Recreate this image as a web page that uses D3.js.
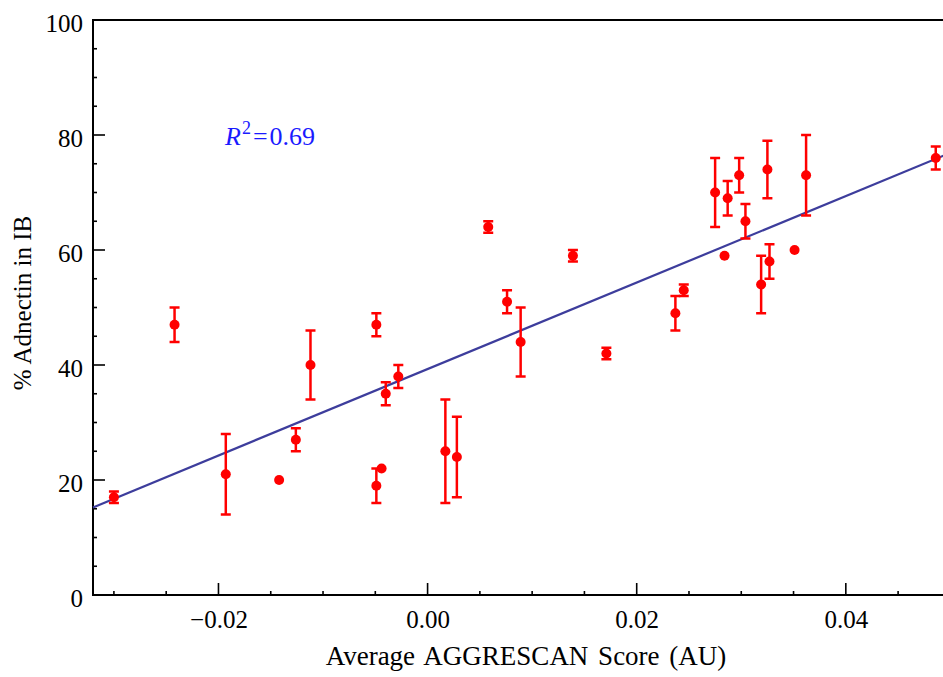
<!DOCTYPE html>
<html>
<head>
<meta charset="utf-8">
<script src="https://cdn.jsdelivr.net/npm/d3@7"></script>
<style>
  html, body { margin: 0; padding: 0; background: #fff; }
  svg { display: block; }
</style>
</head>
<body>
<svg id="chart" width="943" height="677"></svg>
<script>
// ---- data ----
const scoreX = [-0.0300, -0.0242, -0.0193, -0.0142, -0.0126, -0.0112, -0.0049, -0.0049, -0.0044, -0.0040,
                -0.0028, 0.0017, 0.0028, 0.0058, 0.0076, 0.0089, 0.0139, 0.0171, 0.0237, 0.0245,
                0.0275, 0.0284, 0.0287, 0.0298, 0.0304, 0.0319, 0.0325, 0.0327, 0.0351, 0.0362, 0.0486];
const adnectinY = [17, 47, 21, 20, 27, 40, 47, 19, 22, 35,
                   38, 25, 24, 64, 51, 44, 59, 42, 49, 53,
                   70, 59, 69, 73, 65, 54, 74, 58, 60, 73, 76];
const errorY = [1, 3, 7, 0, 2, 6, 2, 3, 0, 2,
                2, 9, 7, 1, 2, 6, 1, 1, 3, 1,
                6, 0, 3, 3, 3, 5, 5, 3, 0, 7, 2];
const fitIntercept = 39.3;
const fitSlope = 752;
const r2Text = "0.69";
const xTicks = [-0.02, 0.00, 0.02, 0.04];
const yTicks = [0, 20, 40, 60, 80, 100];
const xLabel = "Average AGGRESCAN Score (AU)";
const yLabel = "% Adnectin in IB";

// ---- layout ----
const svg = d3.select("#chart");
const L = 93, R = 944, T = 20, B = 595;
const x = d3.scaleLinear().domain([-0.0320, 0.04939]).range([L, R]);
const y = d3.scaleLinear().domain([0, 100]).range([B, T]);
const font = '"Liberation Serif", "Times New Roman", Times, serif';

const data = scoreX.map((v, i) => ({x: v, y: adnectinY[i], e: errorY[i]}));

// frame top line
svg.append("line").attr("x1", L).attr("x2", 943).attr("y1", T).attr("y2", T)
  .attr("stroke", "#000").attr("stroke-width", 2);

// x axis ticks (major every 0.02, minor every 0.005)
const xMinor = d3.range(-0.030, 0.0491, 0.005).map(v => +v.toFixed(3));
svg.append("g").selectAll("line").data(xMinor).join("line")
  .attr("x1", d => x(d)).attr("x2", d => x(d))
  .attr("y1", B).attr("y2", d => xTicks.some(t => Math.abs(t - d) < 1e-6) ? B - 12 : B - 4)
  .attr("stroke", "#000").attr("stroke-width", 1.6);

// y axis ticks (major every 20, minor every 5)
const yMinor = d3.range(0, 101, 5);
svg.append("g").selectAll("line").data(yMinor).join("line")
  .attr("x1", L).attr("x2", d => d % 20 === 0 ? L + 12 : L + 4)
  .attr("y1", d => y(d)).attr("y2", d => y(d))
  .attr("stroke", "#000").attr("stroke-width", 1.6);

// axes lines
svg.append("line").attr("x1", L).attr("x2", L).attr("y1", T - 1).attr("y2", B + 1)
  .attr("stroke", "#000").attr("stroke-width", 2);
svg.append("line").attr("x1", L - 1).attr("x2", 943).attr("y1", B).attr("y2", B)
  .attr("stroke", "#000").attr("stroke-width", 2);

// tick labels via d3 axis (no tick lines)
const fmtX = d => (d < 0 ? "\u2212" : "") + d3.format(".2f")(Math.abs(d));
const gx = svg.append("g").attr("transform", `translate(0,${B})`)
  .call(d3.axisBottom(x).tickValues(xTicks).tickFormat(fmtX).tickSize(0).tickPadding(15));
gx.select(".domain").remove();
gx.selectAll("text").style("font-family", font).style("font-size", "25px").attr("fill", "#000");

const gy = svg.append("g").attr("transform", `translate(${L},0)`)
  .call(d3.axisLeft(y).tickValues(yTicks).tickFormat(d3.format("d")).tickSize(0).tickPadding(10));
gy.select(".domain").remove();
gy.selectAll("text").style("font-family", font).style("font-size", "25px").attr("fill", "#000")
  .attr("dy", "0.44em");

// axis titles
svg.append("text").attr("x", 526).attr("y", 665).attr("text-anchor", "middle")
  .style("font-family", font).style("font-size", "27px").style("word-spacing", "3px")
  .attr("fill", "#000").text(xLabel);
svg.append("text").attr("transform", "translate(31,303) rotate(-90)").attr("text-anchor", "middle")
  .style("font-family", font).style("font-size", "25px").attr("fill", "#000").text(yLabel);

// regression line
const plot = svg.append("g");
const xd = x.domain();
plot.append("line")
  .attr("x1", x(xd[0])).attr("y1", y(fitIntercept + fitSlope * xd[0]))
  .attr("x2", x(xd[1])).attr("y2", y(fitIntercept + fitSlope * xd[1]))
  .attr("stroke", "#3d3d9c").attr("stroke-width", 2.2);

// error bars
const red = "#ff0000";
const eb = plot.append("g").selectAll("g").data(data.filter(d => d.e > 0)).join("g");
eb.append("line").attr("x1", d => x(d.x)).attr("x2", d => x(d.x))
  .attr("y1", d => y(d.y - d.e)).attr("y2", d => y(d.y + d.e))
  .attr("stroke", red).attr("stroke-width", 2.5);
eb.append("line").attr("x1", d => x(d.x) - 5).attr("x2", d => x(d.x) + 5)
  .attr("y1", d => y(d.y + d.e)).attr("y2", d => y(d.y + d.e))
  .attr("stroke", red).attr("stroke-width", 2.5);
eb.append("line").attr("x1", d => x(d.x) - 5).attr("x2", d => x(d.x) + 5)
  .attr("y1", d => y(d.y - d.e)).attr("y2", d => y(d.y - d.e))
  .attr("stroke", red).attr("stroke-width", 2.5);

// points
plot.append("g").selectAll("circle").data(data).join("circle")
  .attr("cx", d => x(d.x)).attr("cy", d => y(d.y)).attr("r", 5).attr("fill", red);

// R^2 annotation
const ann = svg.append("text").attr("x", 225).attr("y", 145)
  .style("font-family", font).style("font-size", "26px").attr("fill", "#1a1aff");
ann.append("tspan").style("font-style", "italic").text("R");
ann.append("tspan").style("font-size", "18px").attr("dx", 1).attr("dy", -11).text("2");
ann.append("tspan").attr("dx", 2).attr("dy", 11).text("=");
ann.append("tspan").attr("dx", 2).text(r2Text);
</script>
</body>
</html>
